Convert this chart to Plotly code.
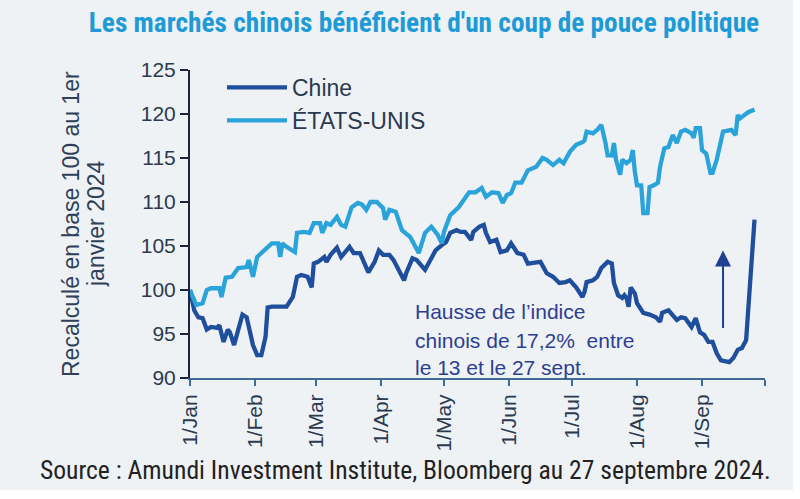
import plotly.graph_objects as go

# ---- Data ----
us_dates = ["2024-01-01","2024-01-04","2024-01-07","2024-01-09","2024-01-11","2024-01-15","2024-01-16","2024-01-18",
            "2024-01-21","2024-01-24","2024-01-28","2024-01-29","2024-01-31","2024-02-02","2024-02-04","2024-02-07",
            "2024-02-09","2024-02-12","2024-02-13","2024-02-14","2024-02-16","2024-02-20","2024-02-21","2024-02-24",
            "2024-02-27","2024-02-29","2024-03-03","2024-03-04","2024-03-06","2024-03-08","2024-03-11","2024-03-13",
            "2024-03-15","2024-03-18","2024-03-21","2024-03-23","2024-03-25","2024-03-27","2024-03-30","2024-04-02",
            "2024-04-03","2024-04-05","2024-04-08","2024-04-11","2024-04-15","2024-04-19","2024-04-22","2024-04-25",
            "2024-04-28","2024-04-30","2024-05-01","2024-05-04","2024-05-08","2024-05-13","2024-05-16","2024-05-19",
            "2024-05-21","2024-05-24","2024-05-27","2024-05-29","2024-05-31","2024-06-02","2024-06-04","2024-06-07",
            "2024-06-10","2024-06-14","2024-06-17","2024-06-19","2024-06-22","2024-06-25","2024-06-27","2024-06-30",
            "2024-07-03","2024-07-06","2024-07-07","2024-07-08","2024-07-11","2024-07-13","2024-07-15","2024-07-17",
            "2024-07-18","2024-07-20","2024-07-21","2024-07-22","2024-07-24","2024-07-25","2024-07-27","2024-07-29",
            "2024-07-30","2024-07-31","2024-08-01","2024-08-03","2024-08-04","2024-08-06","2024-08-07","2024-08-09",
            "2024-08-11","2024-08-12","2024-08-14","2024-08-16","2024-08-18","2024-08-20","2024-08-22","2024-08-24",
            "2024-08-27","2024-08-28","2024-08-29","2024-08-31","2024-09-01","2024-09-03","2024-09-05","2024-09-06",
            "2024-09-08","2024-09-11","2024-09-15","2024-09-17","2024-09-18","2024-09-19","2024-09-21","2024-09-23",
            "2024-09-26"]
us_values = [100.0,98.3,98.5,100.0,100.2,100.2,99.2,101.4,
             101.5,102.5,102.6,103.4,101.5,103.75,104.2,104.8,
             105.3,105.3,103.75,105.3,104.9,104.3,106.5,106.6,
             106.5,107.6,107.6,106.5,107.6,107.4,108.3,107.4,
             107.2,109.4,109.9,109.7,109.1,110.0,110.0,109.3,
             108.0,109.1,108.9,106.8,106.0,104.2,106.5,107.2,
             106.3,105.3,106.6,108.5,109.4,111.1,111.1,111.6,
             110.6,111.1,111.0,109.9,110.8,111.0,112.2,112.2,
             113.6,114.0,115.0,114.8,114.2,114.8,114.4,115.7,
             116.5,116.8,117.0,118.0,117.8,118.2,118.75,116.7,
             115.3,115.3,116.7,114.8,113.1,114.8,114.4,114.8,
             115.9,113.4,111.9,111.9,108.75,108.75,111.7,111.9,
             112.2,114.0,116.1,116.25,117.6,116.7,118.0,118.2,
             117.8,117.3,118.4,118.4,115.9,115.5,113.3,113.3,
             114.8,118.0,118.2,117.6,119.9,119.5,119.9,120.2,
             120.5]

cn_dates = ["2024-01-01","2024-01-03","2024-01-05","2024-01-07","2024-01-09","2024-01-11","2024-01-14","2024-01-15",
            "2024-01-17","2024-01-19","2024-01-20","2024-01-22","2024-01-24","2024-01-26","2024-01-28","2024-01-30",
            "2024-01-31","2024-02-02","2024-02-04","2024-02-06","2024-02-07","2024-02-09","2024-02-13","2024-02-16",
            "2024-02-19","2024-02-21","2024-02-23","2024-02-26","2024-02-28","2024-02-29","2024-03-02","2024-03-05",
            "2024-03-06","2024-03-08","2024-03-11","2024-03-13","2024-03-17","2024-03-19","2024-03-22","2024-03-24",
            "2024-03-26","2024-03-29","2024-03-31","2024-04-02","2024-04-05","2024-04-07","2024-04-10","2024-04-12",
            "2024-04-13","2024-04-16","2024-04-18","2024-04-21","2024-04-22","2024-04-25","2024-04-27","2024-04-30",
            "2024-05-02","2024-05-04","2024-05-07","2024-05-09","2024-05-11","2024-05-14","2024-05-15","2024-05-18",
            "2024-05-20","2024-05-21","2024-05-23","2024-05-26","2024-05-28","2024-05-31","2024-06-02","2024-06-05",
            "2024-06-08","2024-06-10","2024-06-14","2024-06-16","2024-06-19","2024-06-22","2024-06-25","2024-06-28",
            "2024-06-30","2024-07-03","2024-07-06","2024-07-07","2024-07-08","2024-07-11","2024-07-13","2024-07-15",
            "2024-07-18","2024-07-20","2024-07-21","2024-07-23","2024-07-25","2024-07-26","2024-07-27","2024-07-28",
            "2024-07-29","2024-07-31","2024-08-01","2024-08-04","2024-08-07","2024-08-10","2024-08-12","2024-08-13",
            "2024-08-16","2024-08-18","2024-08-20","2024-08-22","2024-08-24","2024-08-27","2024-08-29","2024-08-31",
            "2024-09-02","2024-09-04","2024-09-06","2024-09-08","2024-09-10","2024-09-14","2024-09-16","2024-09-18",
            "2024-09-20","2024-09-22","2024-09-23","2024-09-24","2024-09-26"]
cn_values = [100.0,97.7,96.9,96.8,95.5,95.8,95.7,96.0,
             94.1,95.5,95.2,93.75,95.5,97.2,96.9,95.1,
             93.75,92.6,92.6,94.7,98.0,98.1,98.1,98.1,
             99.2,101.5,101.7,101.5,100.3,103.0,103.2,103.75,
             103.2,104.0,104.8,103.75,104.9,104.2,104.2,103.0,
             102.0,103.2,104.5,104.0,104.0,103.4,101.9,101.1,
             101.9,103.6,103.4,102.6,102.3,103.6,104.5,105.1,
             105.45,106.5,106.8,106.6,106.6,105.7,106.6,107.2,
             107.4,106.5,105.45,105.7,104.3,104.5,105.3,104.2,
             104.0,103.0,103.2,103.2,101.9,101.5,100.8,100.9,
             101.1,100.3,99.2,99.8,100.9,101.1,101.5,102.5,
             103.2,103.0,100.8,99.4,99.1,99.4,99.1,98.1,
             100.3,99.6,98.5,97.4,97.2,96.9,96.4,97.4,
             97.7,97.2,96.6,96.9,96.8,95.8,96.8,95.2,
             94.9,94.1,94.1,92.8,92.0,91.8,92.3,93.2,
             93.4,94.3,97.4,100.5,108.0]

tick_dates = ["2024-01-01","2024-02-01","2024-03-01","2024-04-01","2024-05-01",
              "2024-06-01","2024-07-01","2024-08-01","2024-09-01","2024-10-01"]
tick_labels = ["1/Jan","1/Feb","1/Mar","1/Apr","1/May","1/Jun","1/Jul","1/Aug","1/Sep",""]

arrow_date = "2024-09-11"
arrow_from = 95.5
arrow_to = 104.5

# ---- Styling ----
DARK = "#1f4f9c"
LIGHT = "#2aa3db"
TXT = "#2b3a4f"
NARROW = "Liberation Sans Narrow, Arial Narrow, Roboto Condensed, Liberation Sans, sans-serif"
SANS = "Liberation Sans, Arial, sans-serif"

L, R, T, B = 190, 35, 70, 121
PW = 800 - L - R
PH = 499 - T - B


def px(x):
    return (x - L) / PW


def py(y):
    return (499 - B - y) / PH


fig = go.Figure()
fig.add_trace(go.Scatter(x=cn_dates, y=cn_values, mode="lines", name="Chine",
                         line=dict(color=DARK, width=4.3)))
fig.add_trace(go.Scatter(x=us_dates, y=us_values, mode="lines", name="ÉTATS-UNIS",
                         line=dict(color=LIGHT, width=4.3)))

fig.update_layout(
    width=800, height=499,
    margin=dict(l=L, r=R, t=T, b=B, autoexpand=False),
    paper_bgcolor="#eff2f5", plot_bgcolor="#eff2f5",
    font=dict(family=SANS, size=21, color=TXT),
    title=dict(text="<b>Les marchés chinois bénéficient d'un coup de pouce politique</b>",
               font=dict(family=NARROW, size=27.3, color="#1e9ad6"),
               xref="container", yref="container", x=0.53, xanchor="center",
               y=1 - 22 / 499, yanchor="middle"),
    showlegend=True,
    legend=dict(x=px(222), y=py(66), xanchor="left", yanchor="top",
                bgcolor="rgba(0,0,0,0)", font=dict(size=23, color=TXT),
                itemwidth=60, tracegroupgap=0),
)

fig.update_xaxes(
    type="date", range=["2024-01-01", "2024-10-01"],
    tickvals=tick_dates, ticktext=tick_labels, tickangle=-90,
    showgrid=False, zeroline=False,
    showline=True, linecolor="#3f6a96", linewidth=2,
    ticks="outside", ticklen=6, tickwidth=2, tickcolor="#3f6a96",
    tickfont=dict(size=21, color=TXT),
)
fig.update_yaxes(
    range=[90, 125], dtick=5, showgrid=False, zeroline=False,
    showline=True, linecolor="#1c2541", linewidth=2,
    ticks="outside", ticklen=8, tickwidth=2, tickcolor="#1c2541",
    tickfont=dict(size=21, color=TXT),
)

# y-axis title (two rotated lines)
for txt, xc in [("Recalculé en base 100 au 1er", 71), ("janvier 2024", 96)]:
    fig.add_annotation(text=txt, xref="paper", yref="paper", x=px(xc), y=py(224),
                       xanchor="center", yanchor="middle", textangle=-90,
                       showarrow=False, font=dict(size=23, color="#2e4158"))

# white page strips outside the grey panel
fig.add_shape(type="rect", xref="paper", yref="paper",
              x0=-0.4, x1=1.1, y0=py(510), y1=py(490),
              fillcolor="white", line=dict(width=0), layer="below")
fig.add_shape(type="rect", xref="paper", yref="paper",
              x0=px(793), x1=1.1, y0=-0.5, y1=1.3,
              fillcolor="white", line=dict(width=0), layer="below")

# annotation text
note_lines = ["Hausse de l’indice", "chinois de 17,2%  entre", "le 13 et le 27 sept."]
note_y = [311, 340, 367]
for txt, yc in zip(note_lines, note_y):
    fig.add_annotation(text=txt, xref="paper", yref="paper",
                       x=px(413), y=py(yc),
                       xanchor="left", yanchor="middle", showarrow=False,
                       font=dict(size=21, color="#2c3e92"))

# arrow
fig.add_annotation(x=arrow_date, y=arrow_to, ax=arrow_date, ay=arrow_from,
                   xref="x", yref="y", axref="x", ayref="y", text="",
                   showarrow=True, arrowhead=2, arrowsize=1.6, arrowwidth=2,
                   arrowcolor="#1f3f8f")

# source
fig.add_annotation(text="Source : Amundi Investment Institute, Bloomberg au 27 septembre 2024.",
                   xref="paper", yref="paper", x=px(405), y=py(470),
                   xanchor="center", yanchor="middle", showarrow=False,
                   font=dict(family=NARROW, size=25.6, color="#222222"))

fig.write_html("out.html", config={"displayModeBar": False},
               post_script="document.body.style.margin='0';document.body.style.overflow='hidden';")
